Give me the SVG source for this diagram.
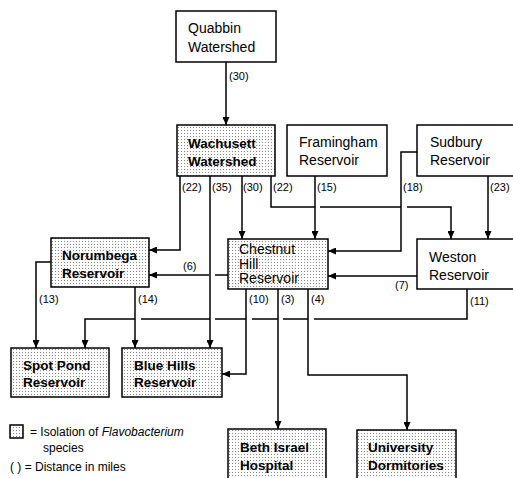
<svg xmlns="http://www.w3.org/2000/svg" width="513" height="478" viewBox="0 0 513 478">
<defs>
<pattern id="dots" width="3" height="3" patternUnits="userSpaceOnUse">
<rect width="3" height="3" fill="#fff"/>
<rect x="1" y="1" width="1" height="1" fill="#858585"/>
</pattern>
<marker id="ah" markerWidth="8" markerHeight="7" refX="8" refY="3.5" orient="auto" markerUnits="userSpaceOnUse">
<path d="M0,0 L8,3.5 L0,7 Z" fill="#000"/>
</marker>
</defs>
<style>
.box{fill:#fff;stroke:#000;stroke-width:1.5}
.dot{fill:url(#dots);stroke:#000;stroke-width:1.5}
.t{font-family:"Liberation Sans",Arial,sans-serif;font-size:14px;fill:#000}
.b{font-weight:bold;font-size:13.5px}
.l{font-family:"Liberation Sans",Arial,sans-serif;font-size:11px;fill:#000}
.g{font-family:"Liberation Sans",Arial,sans-serif;font-size:12px;fill:#000}
.c{fill:none;stroke:#000;stroke-width:1.5}
.a{marker-end:url(#ah)}
</style>
<rect width="513" height="478" fill="#fff"/>

<g id="quabbin"><rect class="box" x="176" y="11" width="100" height="51"/><text class="t" x="188" y="33">Quabbin</text><text class="t" x="188" y="52">Watershed</text></g>
<g id="wachusett"><rect class="dot" x="177" y="125" width="98" height="51"/><text class="t b" x="188" y="148">Wachusett</text><text class="t b" x="188" y="166">Watershed</text></g>
<g id="framingham"><rect class="box" x="287" y="125" width="100" height="51"/><text class="t" x="299" y="147">Framingham</text><text class="t" x="299" y="165">Reservoir</text></g>
<g id="sudbury"><rect class="box" x="417" y="125" width="110" height="51"/><text class="t" x="430" y="147">Sudbury</text><text class="t" x="430" y="165">Reservoir</text></g>
<g id="norumbega"><rect class="dot" x="51" y="238" width="98" height="49"/><text class="t b" x="62" y="260">Norumbega</text><text class="t b" x="62" y="278">Reservoir</text></g>
<g id="chestnut"><rect class="dot" x="228" y="239" width="100" height="50"/><text class="t" x="239" y="254">Chestnut</text><text class="t" x="239" y="268.5">Hill</text><text class="t" x="239" y="283">Reservoir</text></g>
<g id="weston"><rect class="box" x="417" y="239" width="110" height="50"/><text class="t" x="429" y="262">Weston</text><text class="t" x="429" y="280">Reservoir</text></g>
<g id="spotpond"><rect class="dot" x="11" y="348" width="98" height="49"/><text class="t b" x="23" y="370">Spot Pond</text><text class="t b" x="23" y="387">Reservoir</text></g>
<g id="bluehills"><rect class="dot" x="122" y="348" width="100" height="49"/><text class="t b" x="134" y="370">Blue Hills</text><text class="t b" x="134" y="387">Reservoir</text></g>
<g id="bethisrael"><rect class="dot" x="228" y="429" width="98" height="60"/><text class="t b" x="240" y="452">Beth Israel</text><text class="t b" x="240" y="470">Hospital</text></g>
<g id="university"><rect class="dot" x="357" y="430" width="99" height="60"/><text class="t b" x="368" y="452">University</text><text class="t b" x="368" y="470">Dormitories</text></g>

<g id="connectors">
<path class="c a" d="M226 62 V125"/>
<path class="c a" d="M180 176 V250 H149"/>
<path class="c a" d="M210 176 V348"/>
<path class="c a" d="M242 176 V239"/>
<path class="c" d="M271 176 V207 H315 M320 207 H401"/>
<path class="c a" d="M407 207 H451 V239"/>
<path class="c a" d="M315 176 V239"/>
<path class="c a" d="M417 152 H401 V251 H328"/>
<path class="c a" d="M488 176 V239"/>
<path class="c a" d="M417 276 H328"/>
<path class="c" d="M228 275 H215"/>
<path class="c a" d="M209 275 H149"/>
<path class="c a" d="M51 262 H36 V348"/>
<path class="c a" d="M135 287 V348"/>
<path class="c" d="M467 289 V319 H314 M308 319 H283 M278 319 H252 M246 319 H215 M210 319 H141"/>
<path class="c a" d="M135 319 H85 V348"/>
<path class="c a" d="M246 289 V374 H222"/>
<path class="c a" d="M278 289 V429"/>
<path class="c a" d="M308 289 V375 H407 V430"/>
</g>

<g id="labels">
<text class="l" x="229" y="80">(30)</text>
<text class="l" x="182" y="191">(22)</text>
<text class="l" x="212" y="191">(35)</text>
<text class="l" x="243" y="191">(30)</text>
<text class="l" x="273" y="191">(22)</text>
<text class="l" x="317" y="191">(15)</text>
<text class="l" x="403" y="191">(18)</text>
<text class="l" x="490" y="191">(23)</text>
<text class="l" x="183" y="270">(6)</text>
<text class="l" x="395" y="289">(7)</text>
<text class="l" x="39" y="303">(13)</text>
<text class="l" x="138" y="303">(14)</text>
<text class="l" x="249" y="303">(10)</text>
<text class="l" x="281" y="303">(3)</text>
<text class="l" x="311" y="303">(4)</text>
<text class="l" x="470" y="305">(11)</text>
</g>

<g id="legend">
<rect class="dot" x="10" y="425" width="13" height="13" stroke-width="1.2"/>
<text class="g" x="30" y="436">= Isolation of <tspan font-style="italic">Flavobacterium</tspan></text>
<text class="g" x="43" y="452">species</text>
<text class="g" x="10" y="471">(  ) = Distance in miles</text>
</g>
</svg>
